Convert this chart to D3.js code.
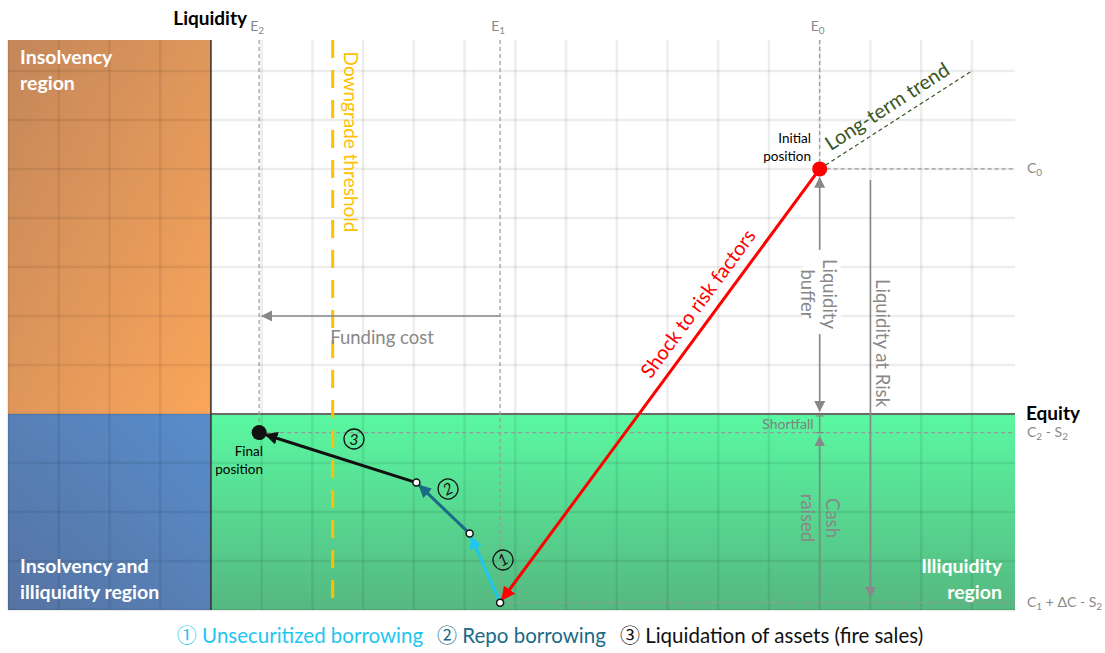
<!DOCTYPE html>
<html>
<head>
<meta charset="utf-8">
<script src="https://cdn.jsdelivr.net/npm/d3@7"></script>
<style>
  body { margin: 0; background: #fff; }
  svg { display: block; font-family: Lato, "DejaVu Sans", sans-serif; }
</style>
</head>
<body>
<div id="chart"></div>
<script>
var width = 1105;
var height = 653;

// grid (equity units on x, liquidity units on y)
var gridX = d3.range(-4, 16);
var gridY = d3.range(-4, 8);

// reference levels
var eLabels = ["E", "E", "E"];
var eSubs = ["0", "1", "2"];
var eValues = [12, 5.7, 0.95];
var eStops = [5.0, -3.85, -0.38]; // where each dashed E line ends

var cLabels = [["C", "0", ""], ["C", "2", " - S", "2"], ["C", "1", " + ΔC - S", "2"]];
var cValues = [5.0, -0.38, -3.85];
var cStarts = [12, 0.95, 5.7];

var downgradeX = 2.4;

// path of the bank: initial -> shock -> step 1 -> step 2 -> step 3 (final)
var pathX = [12, 5.7, 5.1, 4.05, 0.95];
var pathY = [5.0, -3.85, -2.44, -1.4, -0.38];
var stepNames = ["Unsecuritized borrowing", "Repo borrowing", "Liquidation of assets (fire sales)"];
var stepNums = ["1", "2", "3"];
var stepSymbols = ["①", "②", "③"];
var stepColors = ["#1ec6f0", "#1b6b86", "#111111"];

// long-term trend end point
var trendEnd = [15, 7];

var svg = d3.select("#chart").append("svg")
    .attr("width", width)
    .attr("height", height);

var x = d3.scaleLinear().domain([-4, 15.85]).range([8, 1015]);
var y = d3.scaleLinear().domain([-4, 7.63]).range([610, 40]);

var defs = svg.append("defs");

function grad(id, x1, y1, x2, y2, c1, c2) {
    var g = defs.append("linearGradient").attr("id", id)
        .attr("x1", x1).attr("y1", y1).attr("x2", x2).attr("y2", y2);
    g.append("stop").attr("offset", "0%").attr("stop-color", c1);
    g.append("stop").attr("offset", "100%").attr("stop-color", c2);
}
grad("gOrange", "0%", "0%", "100%", "100%", "#c3875a", "#fba65a");
grad("gBlue", "100%", "0%", "0%", "100%", "#588dcb", "#5673a2");
grad("gGreen", "0%", "0%", "0%", "100%", "#5af8a2", "#55b880");

function marker(id, color, size) {
    defs.append("marker").attr("id", id)
        .attr("viewBox", "0 0 10 10").attr("refX", 9).attr("refY", 5)
        .attr("markerWidth", size).attr("markerHeight", size)
        .attr("markerUnits", "userSpaceOnUse")
        .attr("orient", "auto-start-reverse")
        .append("path").attr("d", "M0,0 L10,5 L0,10 z").attr("fill", color);
}
marker("aGray", "#888", 11);
marker("aRed", "#ff0000", 14);
stepColors.forEach(function(c, i) { marker("aStep" + i, c, 13); });

// regions
svg.append("rect").attr("x", x(-4)).attr("y", y(7.63))
    .attr("width", x(0) - x(-4)).attr("height", y(0) - y(7.63)).attr("fill", "url(#gOrange)");
svg.append("rect").attr("x", x(-4)).attr("y", y(0))
    .attr("width", x(0) - x(-4)).attr("height", y(-4) - y(0)).attr("fill", "url(#gBlue)");
svg.append("rect").attr("x", x(0)).attr("y", y(0))
    .attr("width", x(15.85) - x(0)).attr("height", y(-4) - y(0)).attr("fill", "url(#gGreen)");

// grid
svg.append("g").selectAll("line").data(gridX).enter().append("line")
    .attr("x1", d => x(d)).attr("x2", d => x(d))
    .attr("y1", y(7.63)).attr("y2", y(-4))
    .attr("stroke", "#000").attr("stroke-opacity", 0.07).attr("stroke-width", 2.5);
svg.append("g").selectAll("line").data(gridY).enter().append("line")
    .attr("x1", x(-4)).attr("x2", x(15.85))
    .attr("y1", d => y(d)).attr("y2", d => y(d))
    .attr("stroke", "#000").attr("stroke-opacity", 0.07).attr("stroke-width", 2.5);

// axes
svg.append("line").attr("x1", x(0)).attr("x2", x(15.85)).attr("y1", y(0)).attr("y2", y(0))
    .attr("stroke", "#6b6b6b").attr("stroke-width", 2);
svg.append("line").attr("x1", x(0)).attr("x2", x(0)).attr("y1", y(7.63)).attr("y2", y(-4))
    .attr("stroke", "#333").attr("stroke-width", 1.5);

svg.append("text").attr("x", 247).attr("y", 25).attr("text-anchor", "end")
    .attr("font-weight", "bold").attr("font-size", 19).text("Liquidity");
svg.append("text").attr("x", 1026).attr("y", 420)
    .attr("font-weight", "bold").attr("font-size", 19).text("Equity");

// E reference lines
eValues.forEach(function(v, i) {
    svg.append("line").attr("x1", x(v)).attr("x2", x(v))
        .attr("y1", y(7.63)).attr("y2", y(eStops[i]))
        .attr("stroke", "#999").attr("stroke-width", 1.2).attr("stroke-dasharray", "4,3");
    var t = svg.append("text").attr("x", x(v) - 2).attr("y", 31).attr("text-anchor", "middle")
        .attr("fill", "#888").attr("font-size", 14);
    t.append("tspan").text(eLabels[i]);
    t.append("tspan").attr("font-size", 10).attr("dy", 3).text(eSubs[i]);
});

// C reference lines
cValues.forEach(function(v, i) {
    svg.append("line").attr("x1", x(cStarts[i])).attr("x2", x(15.85))
        .attr("y1", y(v)).attr("y2", y(v))
        .attr("stroke", "#999").attr("stroke-width", 1.2).attr("stroke-dasharray", "4,3");
    var t = svg.append("text").attr("x", 1027).attr("y", y(v) + 4)
        .attr("fill", "#888").attr("font-size", 14);
    var parts = cLabels[i];
    parts.forEach(function(p, j) {
        if (p === "") return;
        if (j % 2 === 1) t.append("tspan").attr("font-size", 10).attr("dy", 3).text(p);
        else t.append("tspan").attr("dy", j === 0 ? 0 : -3).text(p);
    });
});

// downgrade threshold
svg.append("line").attr("x1", x(downgradeX)).attr("x2", x(downgradeX))
    .attr("y1", y(7.63)).attr("y2", y(-4))
    .attr("stroke", "#ffc000").attr("stroke-width", 3).attr("stroke-dasharray", "18,12");
svg.append("text").attr("transform", "translate(" + (x(downgradeX) + 11) + ",142) rotate(90)")
    .attr("text-anchor", "middle").attr("fill", "#ffc000").attr("font-size", 19)
    .text("Downgrade threshold");

// long-term trend
svg.append("line").attr("x1", x(pathX[0])).attr("y1", y(pathY[0]))
    .attr("x2", x(trendEnd[0])).attr("y2", y(trendEnd[1]))
    .attr("stroke", "#375623").attr("stroke-width", 1.2).attr("stroke-dasharray", "4,3");
var trendAng = Math.atan2(y(trendEnd[1]) - y(pathY[0]), x(trendEnd[0]) - x(pathX[0])) * 180 / Math.PI;
var tmx = x(pathX[0]) + (x(trendEnd[0]) - x(pathX[0])) * 0.5;
var tmy = y(pathY[0]) + (y(trendEnd[1]) - y(pathY[0])) * 0.5;
svg.append("text").attr("transform", "translate(" + tmx + "," + tmy + ") rotate(" + trendAng + ") translate(0,-9)")
    .attr("text-anchor", "middle").attr("fill", "#375623").attr("font-size", 20)
    .text("Long-term trend");

// funding cost
svg.append("line").attr("x1", x(eValues[1])).attr("x2", x(eValues[2]) + 3)
    .attr("y1", y(2)).attr("y2", y(2))
    .attr("stroke", "#888").attr("stroke-width", 1.5).attr("marker-end", "url(#aGray)");
svg.append("text").attr("x", 382).attr("y", 344).attr("text-anchor", "middle")
    .attr("fill", "#888").attr("font-size", 18.5).text("Funding cost");

// liquidity buffer
var bx = x(pathX[0]);
svg.append("line").attr("x1", bx).attr("x2", bx).attr("y1", y(pathY[0]) + 9).attr("y2", y(0) - 3)
    .attr("stroke", "#888").attr("stroke-width", 1.5)
    .attr("marker-start", "url(#aGray)").attr("marker-end", "url(#aGray)");
svg.append("rect").attr("x", bx - 17).attr("y", 250).attr("width", 38).attr("height", 84).attr("fill", "#fff");
var lb = svg.append("text").attr("transform", "translate(" + bx + ",294) rotate(90)")
    .attr("text-anchor", "middle").attr("fill", "#888").attr("font-size", 18.5);
lb.append("tspan").attr("x", 0).attr("dy", -3).text("Liquidity");
lb.append("tspan").attr("x", 0).attr("dy", 22).text("buffer");

// liquidity at risk
var rx = x(13);
svg.append("line").attr("x1", rx).attr("x2", rx).attr("y1", 180).attr("y2", y(pathY[1]) - 6)
    .attr("stroke", "#888").attr("stroke-width", 1.5).attr("marker-end", "url(#aGray)");
svg.append("text").attr("transform", "translate(" + (rx + 6) + ",343) rotate(90)")
    .attr("text-anchor", "middle").attr("fill", "#888").attr("font-size", 18.5)
    .text("Liquidity at Risk");

// shortfall
svg.append("line").attr("x1", bx).attr("x2", bx).attr("y1", y(0)).attr("y2", y(cValues[1]))
    .attr("stroke", "#888").attr("stroke-width", 1.2);
[0, cValues[1]].forEach(function(v) {
    svg.append("line").attr("x1", bx - 4).attr("x2", bx + 4).attr("y1", y(v) + (v === 0 ? 2 : 0)).attr("y2", y(v) + (v === 0 ? 2 : 0))
        .attr("stroke", "#888").attr("stroke-width", 1.2);
});
svg.append("text").attr("x", bx - 6).attr("y", 429).attr("text-anchor", "end")
    .attr("fill", "#808080").attr("font-size", 14).text("Shortfall");

// cash raised
svg.append("line").attr("x1", bx).attr("x2", bx).attr("y1", y(pathY[1]) - 6).attr("y2", y(cValues[1]) + 4)
    .attr("stroke", "#888").attr("stroke-width", 1.5).attr("marker-end", "url(#aGray)");
var cr = svg.append("text").attr("transform", "translate(" + bx + ",518) rotate(90)")
    .attr("text-anchor", "middle").attr("fill", "#888").attr("font-size", 18.5);
cr.append("tspan").attr("x", 0).attr("dy", -6).text("Cash");
cr.append("tspan").attr("x", 0).attr("dy", 25).text("raised");

// shock to risk factors
svg.append("line").attr("x1", x(pathX[0])).attr("y1", y(pathY[0]))
    .attr("x2", x(pathX[1]) + 2).attr("y2", y(pathY[1]) - 3)
    .attr("stroke", "#ff0000").attr("stroke-width", 3).attr("marker-end", "url(#aRed)");
var shockAng = Math.atan2(y(pathY[0]) - y(pathY[1]), x(pathX[0]) - x(pathX[1])) * 180 / Math.PI;
var smx = x(pathX[1]) + (x(pathX[0]) - x(pathX[1])) * 0.665;
var smy = y(pathY[1]) + (y(pathY[0]) - y(pathY[1])) * 0.665;
svg.append("text").attr("transform", "translate(" + smx + "," + smy + ") rotate(" + shockAng + ") translate(0,-11)")
    .attr("text-anchor", "middle").attr("fill", "#ff0000").attr("font-size", 20)
    .text("Shock to risk factors");

// steps
var symPos = [[503, 560, -30], [448, 489, -25], [354, 439, 0]];
stepColors.forEach(function(c, i) {
    var x0 = x(pathX[i + 1]), y0 = y(pathY[i + 1]);
    var x1 = x(pathX[i + 2]), y1 = y(pathY[i + 2]);
    var L = Math.hypot(x1 - x0, y1 - y0);
    var shrink = i === 2 ? 7 : 4;
    svg.append("line").attr("x1", x0).attr("y1", y0)
        .attr("x2", x1 - (x1 - x0) / L * shrink).attr("y2", y1 - (y1 - y0) / L * shrink)
        .attr("stroke", c).attr("stroke-width", 3).attr("marker-end", "url(#aStep" + i + ")");
    var g = svg.append("g").attr("transform", "translate(" + symPos[i][0] + "," + symPos[i][1] + ") rotate(" + symPos[i][2] + ")");
    g.append("circle").attr("r", 10).attr("fill", "none").attr("stroke", "#111").attr("stroke-width", 1.3);
    g.append("text").attr("text-anchor", "middle").attr("dy", 5.5).attr("font-size", 16)
        .attr("font-style", "italic").attr("fill", "#111").text(stepNums[i]);
});

// points
svg.selectAll(".mid").data(pathX.slice(1, 4)).enter().append("circle")
    .attr("cx", d => x(d)).attr("cy", (d, i) => y(pathY[i + 1]))
    .attr("r", 3.5).attr("fill", "#fff").attr("stroke", "#111").attr("stroke-width", 1.5);
svg.append("circle").attr("cx", x(pathX[0])).attr("cy", y(pathY[0])).attr("r", 7.5).attr("fill", "#ff0000");
svg.append("circle").attr("cx", x(pathX[4])).attr("cy", y(pathY[4])).attr("r", 7.5).attr("fill", "#111");

// point labels
var ip = svg.append("text").attr("x", 811).attr("y", 143).attr("text-anchor", "end").attr("font-size", 13.5);
ip.append("tspan").attr("x", 811).text("Initial");
ip.append("tspan").attr("x", 811).attr("dy", 18).text("position");
var fp = svg.append("text").attr("x", 263).attr("y", 456).attr("text-anchor", "end").attr("font-size", 13.5);
fp.append("tspan").attr("x", 263).text("Final");
fp.append("tspan").attr("x", 263).attr("dy", 18).text("position");

// region labels
function regionLabel(lines, xx, yy, anchor) {
    var t = svg.append("text").attr("fill", "#fff").attr("font-weight", "bold")
        .attr("font-size", 19.5).attr("text-anchor", anchor);
    lines.forEach(function(s, i) {
        t.append("tspan").attr("x", xx).attr("y", yy + i * 26).text(s);
    });
}
regionLabel(["Insolvency", "region"], 20, 64, "start");
regionLabel(["Insolvency and", "illiquidity region"], 20, 573, "start");
regionLabel(["Illiquidity", "region"], 1002, 573, "end");

// legend
var leg = svg.append("text").attr("x", 550).attr("y", 643).attr("text-anchor", "middle")
    .attr("font-size", 20.5).style("white-space", "pre");
stepNames.forEach(function(n, i) {
    leg.append("tspan").attr("fill", stepColors[i]).attr("font-family", "'Noto Sans CJK JP', 'DejaVu Sans'")
        .attr("font-size", 20).attr("dx", i > 0 ? 14 : 0).text(stepSymbols[i]);
    leg.append("tspan").attr("fill", stepColors[i]).text(" " + n);
});
</script>
</body>
</html>
